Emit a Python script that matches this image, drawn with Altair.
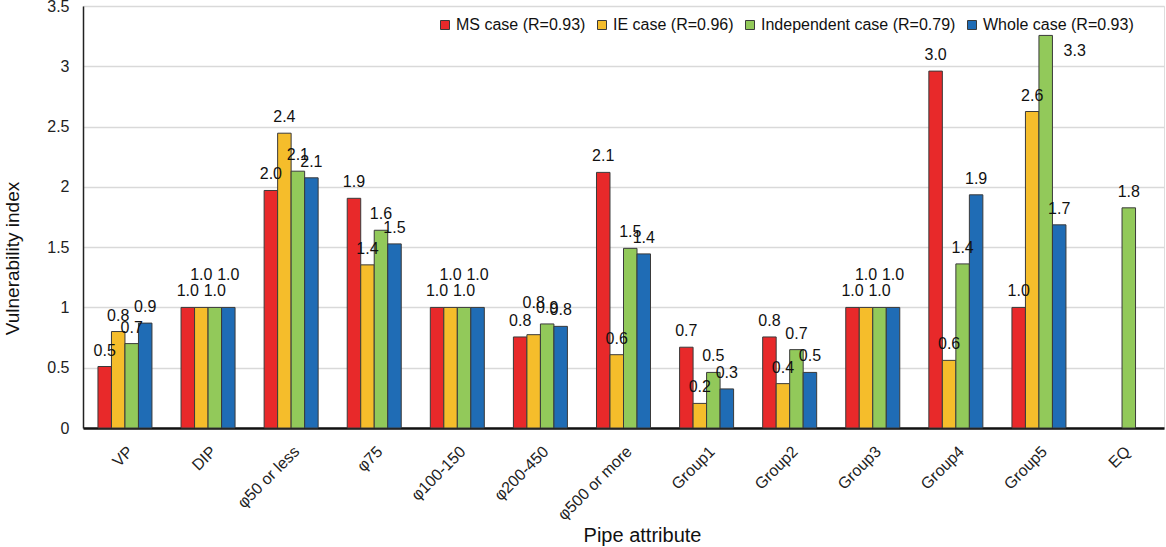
import altair as alt
import pandas as pd

categories = ["VP", "DIP", "φ50 or less", "φ75", "φ100-150", "φ200-450", "φ500 or more",
              "Group1", "Group2", "Group3", "Group4", "Group5", "EQ"]
series = ["MS case (R=0.93)", "IE case (R=0.96)", "Independent case (R=0.79)", "Whole case (R=0.93)"]
colors = ["#E8292A", "#F5BD2B", "#92C95A", "#1F6CB5"]

ms_values = [0.51, 1.0, 1.97, 1.905, 1.0, 0.755, 2.12, 0.67, 0.755, 1.0, 2.96, 1.0, None]
ie_values = [0.80, 1.0, 2.445, 1.353, 1.0, 0.774, 0.608, 0.204, 0.368, 1.0, 0.561, 2.625, None]
ind_values = [0.70, 1.0, 2.13, 1.64, 1.0, 0.863, 1.49, 0.461, 0.65, 1.0, 1.361, 3.256, 1.826]
whole_values = [0.87, 1.0, 2.075, 1.527, 1.0, 0.843, 1.444, 0.324, 0.461, 1.0, 1.934, 1.685, None]

rows = []
for ci, cat in enumerate(categories):
    prev_label = None
    prev_raised = False
    for s, vals in zip(series, [ms_values, ie_values, ind_values, whole_values]):
        v = vals[ci]
        if v is None:
            prev_label = None
            prev_raised = False
            continue
        label = f"{v:.1f}"
        raised = (label == prev_label) and not prev_raised and v < 1.5
        rows.append({"cat": cat, "series": s, "value": v, "label": label,
                     "raised": raised, "high": v > 3.1})
        prev_label = label
        prev_raised = raised
df = pd.DataFrame(rows)

FONT = "Liberation Sans"

x_enc = alt.X("cat:N", sort=categories,
              scale=alt.Scale(paddingInner=0.35, paddingOuter=0.18),
              axis=alt.Axis(title="Pipe attribute", labelAngle=-45, labelAlign="right",
                            labelBaseline="top", labelPadding=15, ticks=False,
                            labelFontSize=16, labelFont=FONT, labelColor="#222222",
                            titleFontSize=20, titleFont=FONT, titleFontWeight="normal",
                            titleColor="#111111", titleX=559, titleY=107,
                            titleBaseline="middle", titleAlign="center",
                            domainColor="#111111", domainWidth=2.5, grid=False))
xoff = alt.XOffset("series:N", sort=series, scale=alt.Scale(domain=series))
y_enc = alt.Y("value:Q", scale=alt.Scale(domain=[0, 3.5], nice=False),
              axis=alt.Axis(title="Vulnerability index", values=[0, 0.5, 1, 1.5, 2, 2.5, 3, 3.5],
                            format="~f", ticks=False, labelPadding=14, labelFontSize=16,
                            labelFont=FONT, labelColor="#222222",
                            titleFontSize=19, titleFont=FONT, titleFontWeight="normal",
                            titleColor="#111111", titleX=-71, titleY=252,
                            titleAngle=-90, titleBaseline="middle", titleAlign="center",
                            domainColor="#222222", domainWidth=1.5,
                            gridColor="#D9D9D9", gridWidth=1.5))

bars = alt.Chart(df).mark_bar(stroke="#3A3A3A", strokeWidth=1).encode(
    x=x_enc, xOffset=xoff, y=y_enc,
    color=alt.Color("series:N", sort=series,
                    scale=alt.Scale(domain=series, range=colors),
                    legend=alt.Legend(title=None, orient="none", direction="horizontal",
                                      legendX=354, legendY=11, symbolType="square",
                                      symbolSize=81, symbolStrokeColor="#3A3A3A",
                                      symbolStrokeWidth=1, labelFontSize=16, labelFont=FONT,
                                      labelColor="#111111", labelOffset=3, columnPadding=8,
                                      labelLimit=400, symbolOffset=0)),
)

def text_layer(filt, dx, dy):
    return alt.Chart(df).transform_filter(filt).mark_text(
        fontSize=16, font=FONT, color="#111111", baseline="middle", dx=dx, dy=dy
    ).encode(x=alt.X("cat:N", sort=categories), xOffset=xoff,
             y=alt.Y("value:Q"), text="label:N")

normal = text_layer("!datum.raised && !datum.high", 0, -16)
raised = text_layer("datum.raised && !datum.high", 0, -32)
high = text_layer("datum.high", 29, 16)

chart = alt.layer(bars, normal, raised, high).properties(
    width=1081, height=422,
    padding={"left": 83, "top": 6, "right": 2, "bottom": 119},
    autosize=alt.AutoSizeParams(type="none"),
).configure_view(stroke="#595959", strokeWidth=1).configure(background="white")

chart.save("out.html", embed_options={"renderer": "svg", "actions": False})
